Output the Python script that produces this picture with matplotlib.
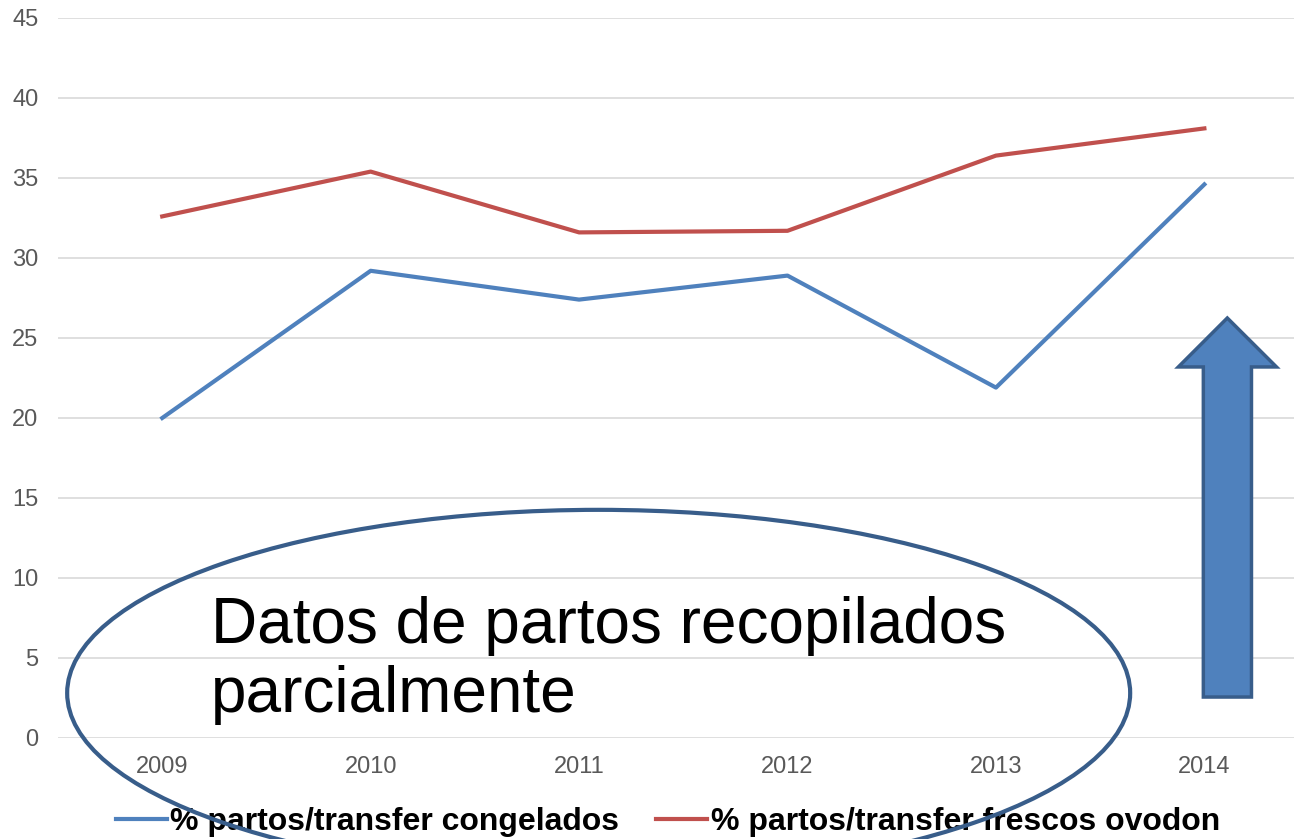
import matplotlib
matplotlib.use("Agg")
import matplotlib.pyplot as plt
from matplotlib.patches import Ellipse, Polygon

# Datos
years = ["2009", "2010", "2011", "2012", "2013", "2014"]
congelados = [20.0, 29.2, 27.4, 28.9, 21.9, 34.6]
frescos_ovodon = [32.6, 35.4, 31.6, 31.7, 36.4, 38.1]
yticks = [0, 5, 10, 15, 20, 25, 30, 35, 40, 45]

plt.rcParams['font.family'] = ['Liberation Sans', 'DejaVu Sans']

fig = plt.figure(figsize=(12.94, 8.39), dpi=100)
ax = fig.add_axes([58 / 1294, 101 / 839, 1236 / 1294, 720 / 839])

x = list(range(len(years)))
ax.plot(x, congelados, color='#4F81BD', lw=3, label='% partos/transfer congelados')
ax.plot(x, frescos_ovodon, color='#C0504D', lw=3, label='% partos/transfer frescos ovodon')

ax.set_xlim(-0.5, 5.43)
ax.set_ylim(0, 45)
ax.set_xticks(x)
ax.set_xticklabels(years)
ax.set_yticks(yticks)
ax.tick_params(axis='both', length=0, labelsize=17, labelcolor='#595959')
ax.tick_params(axis='y', pad=14)
ax.tick_params(axis='x', pad=13)
ax.grid(axis='y', color='#D9D9D9', lw=1.2)
ax.set_axisbelow(True)
for s in ax.spines.values():
    s.set_visible(False)

leg = ax.legend(loc='center', bbox_to_anchor=(0.4935, -0.1167), ncol=2, frameon=False,
                prop={'weight': 'bold', 'size': 23}, handlelength=1.6,
                handletextpad=0.12, columnspacing=1.15, borderpad=0, borderaxespad=0)
for t in leg.get_texts():
    t.set_color('black')

# elipse con el texto
ell = Ellipse((2.094, 2.81), 5.10, 22.9, facecolor='none', edgecolor='#385D8A',
              lw=3, clip_on=False, zorder=6)
ax.add_patch(ell)
ax.text(0.235, 1.62, "Datos de partos recopilados\nparcialmente", fontsize=46,
        color='black', ha='left', va='baseline', linespacing=1.19, zorder=7)

# flecha hacia arriba
arrow = Polygon([(4.995, 2.56), (4.995, 23.19), (4.875, 23.19), (5.11, 26.25),
                 (5.346, 23.19), (5.226, 23.19), (5.226, 2.56)], closed=True,
                facecolor='#4F81BD', edgecolor='#385D8A', lw=2.5, zorder=6)
ax.add_patch(arrow)

fig.savefig('out.png', dpi=100)
